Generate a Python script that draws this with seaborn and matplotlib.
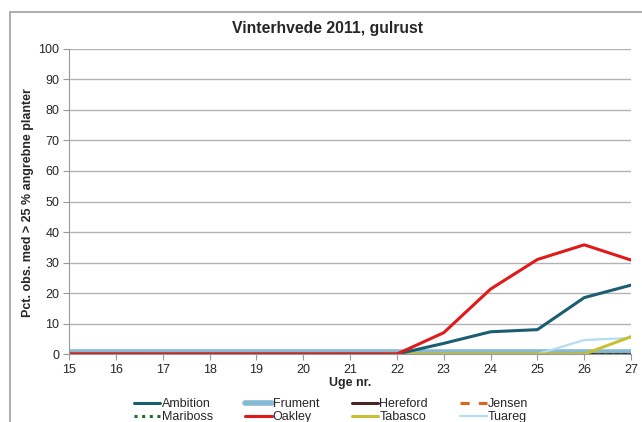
import matplotlib
matplotlib.use("Agg")
import matplotlib.pyplot as plt
import seaborn as sns
import pandas as pd
from matplotlib.patches import Rectangle
from matplotlib.lines import Line2D

weeks = list(range(15, 28))
ambition = [0, 0, 0, 0, 0, 0, 0, 0, 3.5, 7.3, 8.0, 18.5, 22.6]
frument  = [0.8] * 13
hereford = [0] * 13
jensen   = [0] * 13
mariboss = [0] * 13
oakley   = [0, 0, 0, 0, 0, 0, 0, 0, 7.0, 21.3, 31.0, 35.8, 30.8]
tabasco  = [0, 0, 0, 0, 0, 0, 0, 0, 0, 0, 0, 0, 5.7]
tuareg   = [0, 0, 0, 0, 0, 0, 0, 0, 0, 0, 0, 4.6, 5.3]

series = {
    "Ambition": ambition, "Frument": frument, "Hereford": hereford, "Jensen": jensen,
    "Mariboss": mariboss, "Oakley": oakley, "Tabasco": tabasco, "Tuareg": tuareg,
}
order = ["Ambition", "Frument", "Hereford", "Jensen", "Mariboss", "Oakley", "Tabasco", "Tuareg"]
colors = {"Ambition": "#1b5e72", "Frument": "#86b9d3", "Hereford": "#4a2525",
          "Jensen": "#e0651a", "Mariboss": "#1f6b32", "Oakley": "#e01a1a",
          "Tabasco": "#c9bf35", "Tuareg": "#b5ddef"}
widths = {"Ambition": 2.2, "Frument": 4.0, "Hereford": 2.2, "Jensen": 2.2,
          "Mariboss": 2.2, "Oakley": 2.2, "Tabasco": 2.2, "Tuareg": 1.6}
styles = {"Ambition": "-", "Frument": "-", "Hereford": "-", "Jensen": (0, (3, 3)),
          "Mariboss": (0, (1, 1.5)), "Oakley": "-", "Tabasco": "-", "Tuareg": "-"}

rows = []
for name in order:
    for w, v in zip(weeks, series[name]):
        rows.append({"Uge": w, "Pct": v, "Sort": name})
df = pd.DataFrame(rows)

sns.set_style("white")
plt.rcParams["font.family"] = ["Liberation Sans", "DejaVu Sans"]

fig = plt.figure(figsize=(6.42, 4.22), dpi=100)
ax = fig.add_axes([0.1075, 0.161, 0.8755, 0.723])

draw_order = ["Frument", "Jensen", "Hereford", "Mariboss", "Tuareg", "Tabasco", "Ambition", "Oakley"]
for name in draw_order:
    sub = df[df["Sort"] == name]
    sns.lineplot(data=sub, x="Uge", y="Pct", ax=ax, color=colors[name],
                 linewidth=widths[name], linestyle=styles[name], legend=False)

ax.set_xlim(15, 27)
ax.set_ylim(0, 100)
ax.set_xticks(weeks)
ax.set_yticks(range(0, 101, 10))
ax.yaxis.grid(True, color="#b3b3b3", linewidth=1)
ax.xaxis.grid(False)
for s in ["top", "right"]:
    ax.spines[s].set_visible(False)
ax.spines["left"].set_color("#999999")
ax.spines["bottom"].set_color("#999999")
ax.tick_params(axis="both", which="both", length=4, color="#999999", labelsize=9,
               direction="out", left=True, bottom=True, pad=3)
ax.set_xlabel("Uge nr.", fontsize=9, fontweight="bold", labelpad=1)
ax.set_ylabel("Pct. obs. med > 25 % angrebne planter", fontsize=9, fontweight="bold", labelpad=1)
ax.yaxis.set_label_coords(-0.063, 0.495)
fig.text(0.511, 0.933, "Vinterhvede 2011, gulrust", ha="center", va="center",
         fontsize=11.3, fontweight="bold")

# row-major legend order (matplotlib fills column-major)
leg_order = ["Ambition", "Mariboss", "Frument", "Oakley", "Hereford", "Tabasco", "Jensen", "Tuareg"]
handles = [Line2D([], [], color=colors[n], linewidth=widths[n], linestyle=styles[n]) for n in leg_order]
fig.legend(handles, leg_order, loc="center", bbox_to_anchor=(0.516, 0.027), ncol=4, frameon=False,
           fontsize=9, handlelength=2.1, handletextpad=0.1, columnspacing=2.6,
           labelspacing=0.05, borderaxespad=0)

fig.patches.append(Rectangle((0.016, -0.01), 1.0, 0.982, transform=fig.transFigure,
                             fill=False, edgecolor="#a0a0a0", linewidth=1.2))

fig.savefig("out.png", dpi=100, facecolor="white")
